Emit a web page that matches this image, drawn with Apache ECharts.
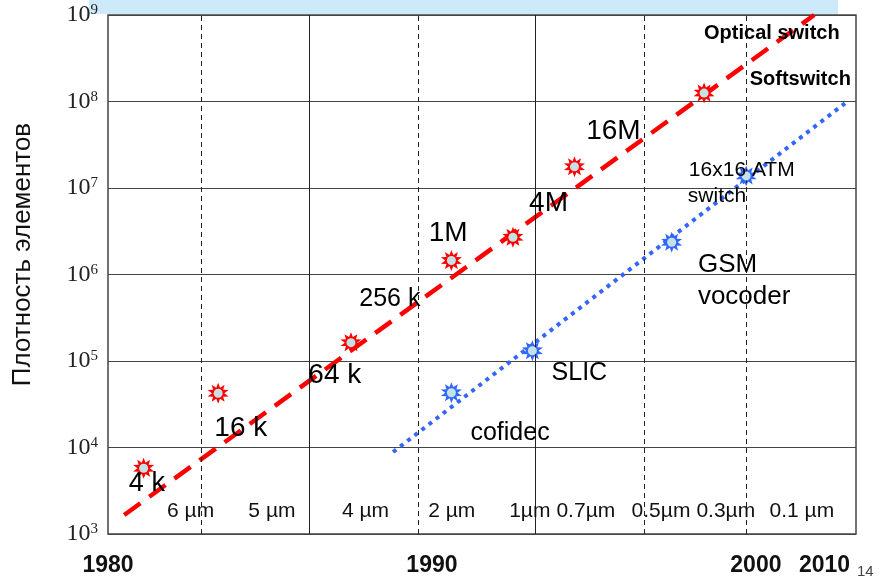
<!DOCTYPE html>
<html>
<head>
<meta charset="utf-8">
<script src="https://cdn.jsdelivr.net/npm/echarts@6/dist/echarts.min.js"></script>
<style>html,body{margin:0;padding:0;background:#fff}#c{width:884px;height:577px}</style>
</head>
<body>
<div id="c"></div>
<script>
// ---------- DATA ----------
const xTickYears = [1980, 1990, 2000];
const xEndLabel = '2010';
const yAxisTitle = 'Плотность элементов';
const pageNumber = '14';

// DRAM generations (stars on the red dashed trend)
const dramYears   = [1981.1, 1983.4, 1987.5, 1990.6, 1992.5, 1994.4, 1998.4];
const dramDensity = [5750, 42400, 163000, 1.45e6, 2.69e6, 1.76e7, 1.25e8];
// ASIC / DSP devices (stars on the blue dotted trend)
const asicYears   = [1990.6, 1993.1, 1997.4, 1999.7];
const asicDensity = [43000, 131500, 2.36e6, 1.38e7];
// trend lines (end points)
const dramTrendYears   = [1980.5, 2001.8];
const dramTrendDensity = [1660, 1e9];
const asicTrendYears   = [1988.8, 2002.75];
const asicTrendDensity = [8870, 9.53e7];

// process node boundaries
const nodeYears = [1982.87, 1986.2, 1989.57, 1993.18, 1996.54, 1999.69];
const nodeSolid = [false, true, false, true, false, false];
// feature size labels
const featureNames = ['6 \u00b5m', '5 \u00b5m', '4 \u00b5m', '2 \u00b5m', '1\u00b5m', '0.7\u00b5m', '0.5\u00b5m', '0.3\u00b5m', '0.1 \u00b5m'];
const featureYears = [1982.55, 1985.06, 1987.95, 1990.61, 1993.02, 1994.75, 1997.07, 1999.07, 2001.42];
const featureLevel = 1845;

// memory annotations
const memLabels       = ['4 k', '16 k', '64 k', '256 k', '1M', '4M', '16M'];
const memLabelYears   = [1981.2, 1984.1, 1987.0, 1988.7, 1990.5, 1993.6, 1995.6];
const memLabelDensity = [3790, 16700, 68900, 516000, 2.99e6, 6.65e6, 4.56e7];
const memLabelSizes   = [27, 28, 28, 25, 28, 28, 28];
// ASIC annotations
const asicLabels       = ['cofidec', 'SLIC', 'GSM', 'vocoder', '16x16 ATM', 'switch'];
const asicLabelYears   = [1992.41, 1994.55, 1998.21, 1998.21, 1997.93, 1997.90];
const asicLabelDensity = [14830, 73300, 1.288e6, 553000, 1.614e7, 8.09e6];
const asicLabelAlign   = ['center', 'center', 'left', 'left', 'left', 'left'];
const asicLabelSizes   = [25, 25, 26, 26, 21, 21];
// product annotations
const prodLabels       = ['Optical switch', 'Softswitch'];
const prodLabelYears   = [1998.4, 1999.81];
const prodLabelDensity = [6.19e8, 1.775e8];

// ---------- CHART ----------
function starPath(n, ro, ri) {
  let d = '';
  for (let i = 0; i < 2 * n; i++) {
    const a = -Math.PI / 2 + i * Math.PI / n;
    const r = i % 2 ? ri : ro;
    d += (i ? 'L' : 'M') + (r * Math.cos(a)).toFixed(3) + ' ' + (r * Math.sin(a)).toFixed(3);
  }
  return 'path://' + d + 'Z';
}
const STAR = starPath(10, 10, 5.6);
const RED = '#ff0000', BLUE = '#3366ff', DOT = '#c4e2e6';
const SANS = 'Liberation Sans, Arial, sans-serif';
const zip = (xs, ys) => xs.map((x, i) => [x, ys[i]]);

function textSeries(name, texts, xs, ys, styleFn) {
  return {
    type: 'scatter', name, symbolSize: 0, z: 6, silent: true,
    itemStyle: { color: 'transparent', opacity: 1 },
    data: texts.map((t, i) => ({
      value: [xs[i], ys[i]],
      label: Object.assign({ show: true, position: 'inside', formatter: t, color: '#000',
        opacity: 1, textBorderWidth: 0, fontFamily: SANS, verticalAlign: 'middle' }, styleFn(i))
    }))
  };
}

const chart = echarts.init(document.getElementById('c'), null, { renderer: 'canvas' });
chart.setOption({
  animation: false,
  backgroundColor: '#fff',
  title: { text: pageNumber, left: 852, top: 559,
    textStyle: { fontSize: 15, fontWeight: 'normal', color: '#444', fontFamily: SANS } },
  graphic: [{ type: 'rect', left: 89, top: 0, shape: { width: 749, height: 14 },
    style: { fill: '#cdeafb' }, z: -1 }],
  grid: { left: 108, right: 28, top: 15, bottom: 43, show: true, borderColor: '#444',
    borderWidth: 1.5, containLabel: false, outerBoundsMode: 'none' },
  xAxis: {
    type: 'value', min: 1980, max: 2003.09,
    axisLine: { show: false }, axisTick: { show: false }, splitLine: { show: false },
    axisLabel: { customValues: xTickYears, formatter: v => String(v), margin: 20,
      fontSize: 23, fontWeight: 'bold', color: '#111', fontFamily: SANS },
    name: xEndLabel, nameLocation: 'end', nameGap: -57,
    nameTextStyle: { fontSize: 23, fontWeight: 'bold', color: '#111', fontFamily: SANS,
      verticalAlign: 'top', padding: [20, 0, 0, 0] }
  },
  yAxis: {
    type: 'log', logBase: 10, min: 1000, max: 1e9,
    axisLine: { show: false }, axisTick: { show: false },
    splitLine: { show: true, lineStyle: { color: '#444', width: 1 } },
    axisLabel: {
      margin: 10,
      formatter: v => '{b|10}{s|' + Math.round(Math.log10(v)) + '}',
      rich: {
        b: { fontSize: 24, fontFamily: 'Liberation Serif, Times New Roman, serif', color: '#222' },
        s: { fontSize: 15, fontFamily: 'Liberation Serif, Times New Roman, serif', color: '#222', verticalAlign: 'top', padding: [0, 0, 8, 0] }
      }
    },
    name: yAxisTitle, nameLocation: 'middle', nameRotate: 90, nameGap: 72,
    nameTextStyle: { fontSize: 26, fontFamily: SANS, color: '#111', padding: [0, 0, 0, 40] }
  },
  series: [
    { type: 'line', name: 'nodes', data: [], silent: true, z: 1,
      markLine: { silent: true, symbol: ['none', 'none'], label: { show: false }, animation: false,
        data: nodeYears.map((x, i) => ({ xAxis: x,
          lineStyle: { color: '#222', width: 1, type: nodeSolid[i] ? 'solid' : [5, 4] } })) } },
    { type: 'line', name: 'DRAM trend', data: zip(dramTrendYears, dramTrendDensity), showSymbol: false,
      z: 3, lineStyle: { color: RED, width: 4.5, type: [20, 11], cap: 'butt' } },
    { type: 'line', name: 'ASIC trend', data: zip(asicTrendYears, asicTrendDensity), showSymbol: false,
      z: 3, lineStyle: { color: BLUE, width: 4, type: [4, 5], cap: 'butt' } },
    { type: 'scatter', name: 'DRAM', data: zip(dramYears, dramDensity), symbol: STAR, symbolSize: 21,
      z: 4, itemStyle: { color: RED, opacity: 1 } },
    { type: 'scatter', name: 'ASIC', data: zip(asicYears, asicDensity), symbol: STAR, symbolSize: 21,
      z: 4, itemStyle: { color: BLUE, opacity: 1 } },
    { type: 'scatter', name: 'DRAM c', data: zip(dramYears, dramDensity), symbol: 'circle', symbolSize: 9,
      z: 5, itemStyle: { color: DOT, opacity: 1 } },
    { type: 'scatter', name: 'ASIC c', data: zip(asicYears, asicDensity), symbol: 'circle', symbolSize: 9,
      z: 5, itemStyle: { color: DOT, opacity: 1 } },
    textSeries('features', featureNames, featureYears, featureNames.map(() => featureLevel),
      () => ({ fontSize: 21, align: 'center', color: '#111' })),
    textSeries('mem', memLabels, memLabelYears, memLabelDensity,
      i => ({ fontSize: memLabelSizes[i], align: 'center' })),
    textSeries('asic', asicLabels, asicLabelYears, asicLabelDensity,
      i => ({ fontSize: asicLabelSizes[i], align: asicLabelAlign[i] })),
    textSeries('prod', prodLabels, prodLabelYears, prodLabelDensity,
      () => ({ fontSize: 20, fontWeight: 'bold', align: 'left' }))
  ]
});
</script>
</body>
</html>
